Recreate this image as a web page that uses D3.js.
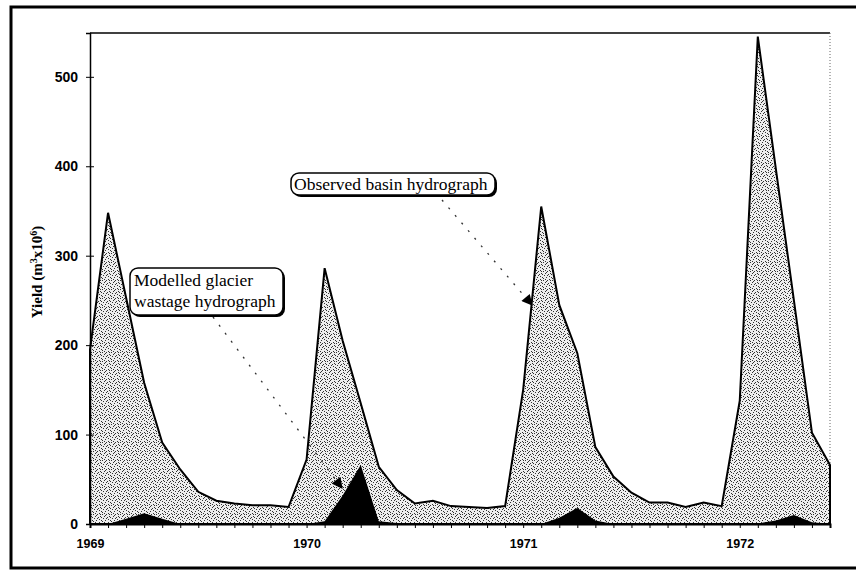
<!DOCTYPE html>
<html>
<head>
<meta charset="utf-8">
<script src="https://cdn.jsdelivr.net/npm/d3@7"></script>
<style>
  body { margin: 0; background: #fff; }
  svg { display: block; }
</style>
</head>
<body>
<svg id="chart" width="856" height="571"></svg>
<script>
// monthly yields, Jan 1969 .. Jun 1972 (m3 x 10^6)
var observed = [195, 348, 253, 158, 91, 61, 36, 26, 23, 21, 21, 19, 72,
                286, 205, 135, 64, 38, 23, 26, 20, 19, 18, 20, 150,
                355, 245, 191, 86, 53, 35, 24, 24, 19, 24, 20, 138,
                545, 397, 250, 102, 66];
var glacier = [0, 0, 6, 12, 6, 0, 0, 0, 0, 0, 0, 0, 0,
               3, 32, 66, 3, 1, 0, 0, 0, 0, 0, 0, 0,
               0, 7, 18, 4, 0, 0, 0, 0, 0, 0, 0, 0,
               0.5, 4, 10, 2, 0];
var yearTicks = [0, 12, 24, 36];
var yearLabels = ["1969", "1970", "1971", "1972"];
var yTicks = [0, 100, 200, 300, 400, 500];

var svg = d3.select("#chart");

var x = d3.scaleLinear().domain([0, observed.length - 1]).range([90, 830]);
var y = d3.scaleLinear().domain([0, 549]).range([524, 33]);

// stipple fill (scanned dot screen look)
var defs = svg.append("defs");
var pat = defs.append("pattern")
    .attr("id", "stipple")
    .attr("patternUnits", "userSpaceOnUse")
    .attr("width", 9).attr("height", 9);
pat.append("rect").attr("width", 9).attr("height", 9).attr("fill", "#eeeeee");
[[0,0],[3,1],[7,1],[5,3],[1,3],[8,4],[4,5],[0,6],[2,7],[6,7],[3,8],[7,5],[1,1],[5,0],[2,4],[6,2]].forEach(function(p){
    pat.append("rect").attr("x", p[0]).attr("y", p[1]).attr("width", 1).attr("height", 1).attr("fill", "#333");
});

defs.append("marker")
    .attr("id", "head")
    .attr("viewBox", "0 0 10 10")
    .attr("refX", 9).attr("refY", 5)
    .attr("markerWidth", 14).attr("markerHeight", 11)
    .attr("markerUnits", "userSpaceOnUse")
    .attr("orient", "auto")
  .append("path")
    .attr("d", "M0,0L10,5L0,10z")
    .attr("fill", "#000");

// outer frame
svg.append("rect")
    .attr("x", 11).attr("y", 7)
    .attr("width", 900).attr("height", 561)
    .attr("fill", "none")
    .attr("stroke", "#000")
    .attr("stroke-width", 3);

// plot frame: solid top, dotted right
svg.append("line")
    .attr("x1", 90).attr("x2", 830).attr("y1", 33).attr("y2", 33)
    .attr("stroke", "#000").attr("stroke-width", 1.5);
svg.append("line")
    .attr("x1", 830).attr("x2", 830).attr("y1", 33).attr("y2", 524)
    .attr("stroke", "#666").attr("stroke-width", 1)
    .attr("stroke-dasharray", "1,2");

var area = d3.area()
    .x(function(d, i){ return x(i); })
    .y0(y(0))
    .y1(function(d){ return y(d); });

svg.append("path")
    .datum(observed)
    .attr("d", area)
    .attr("fill", "url(#stipple)")
    .attr("stroke", "#000")
    .attr("stroke-width", 2)
    .attr("stroke-linejoin", "miter");

svg.append("path")
    .datum(glacier)
    .attr("d", area)
    .attr("fill", "#000");

// axes
var yAxis = svg.append("g")
    .attr("transform", "translate(90,0)")
    .call(d3.axisLeft(y).tickValues(yTicks).tickSize(4).tickPadding(8));
yAxis.selectAll(".tick").append("line").attr("x2", 4).attr("stroke", "#000");
yAxis.select(".domain").attr("stroke-width", 1.5);
yAxis.selectAll("text")
    .attr("font-family", "Liberation Sans, Arial, sans-serif")
    .attr("font-weight", "bold")
    .attr("font-size", 14)
    .attr("fill", "#000");

var xAxis = svg.append("g")
    .attr("transform", "translate(0,524)")
    .call(d3.axisBottom(x)
        .tickValues(d3.range(0, observed.length))
        .tickSize(4).tickPadding(11)
        .tickFormat(function(i){
            var k = yearTicks.indexOf(i);
            return k >= 0 ? yearLabels[k] : "";
        }));
xAxis.select(".domain").attr("stroke-width", 2);
xAxis.selectAll("text")
    .attr("font-family", "Liberation Sans, Arial, sans-serif")
    .attr("font-weight", "bold")
    .attr("font-size", 12.5)
    .attr("fill", "#000");

// y title
var yt = svg.append("text")
    .attr("transform", "translate(42,272) rotate(-90)")
    .attr("text-anchor", "middle")
    .attr("font-family", "Liberation Serif, Times New Roman, serif")
    .attr("font-weight", "bold")
    .attr("font-size", 15);
yt.append("tspan").text("Yield (m");
yt.append("tspan").attr("font-size", 10).attr("dy", -5).text("3");
yt.append("tspan").attr("dy", 5).text("x10");
yt.append("tspan").attr("font-size", 10).attr("dy", -5).text("6");
yt.append("tspan").attr("dy", 5).text(")");

// callouts
function callout(bx, by, bw, bh, lines, tx, ty, ax1, ay1, ax2, ay2){
    svg.append("line")
        .attr("x1", ax1).attr("y1", ay1).attr("x2", ax2).attr("y2", ay2)
        .attr("stroke", "#333").attr("stroke-width", 1.3)
        .attr("stroke-dasharray", "2,8")
        .attr("marker-end", "url(#head)");
    svg.append("rect")
        .attr("x", bx + 2).attr("y", by + 2).attr("width", bw).attr("height", bh)
        .attr("rx", 8).attr("fill", "#000");
    svg.append("rect")
        .attr("x", bx).attr("y", by).attr("width", bw).attr("height", bh)
        .attr("rx", 8).attr("fill", "#fff")
        .attr("stroke", "#000").attr("stroke-width", 1.5);
    lines.forEach(function(t, k){
        svg.append("text")
            .attr("x", tx).attr("y", ty + k * 21)
            .attr("font-family", "Liberation Serif, Times New Roman, serif")
            .attr("font-size", 17.5)
            .text(t);
    });
}

callout(291, 173, 204, 22, ["Observed basin hydrograph"], 294, 190, 442, 200, 532, 305);
callout(130, 268, 153, 47, ["Modelled glacier", "wastage hydrograph"], 134, 286, 213, 317, 342, 488);
</script>
</body>
</html>
